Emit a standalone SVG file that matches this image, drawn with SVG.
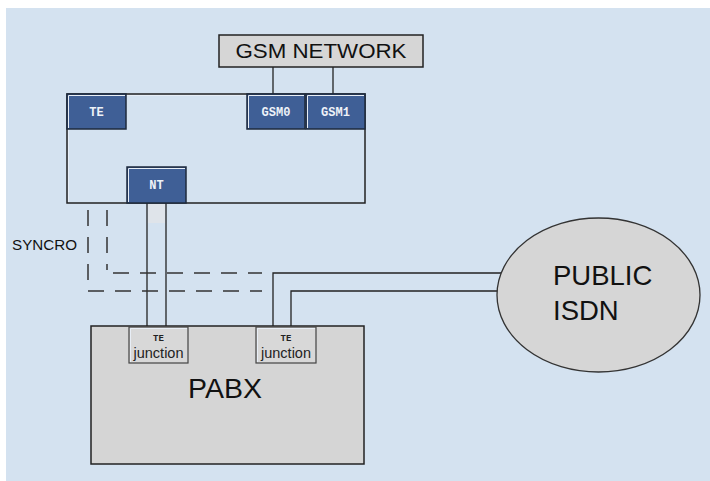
<svg xmlns="http://www.w3.org/2000/svg" width="710" height="481" viewBox="0 0 710 481">
<style>
.bg{fill:#d4e2f0}
.blue{fill:#3f5f96;stroke:#1e2a3c;stroke-width:1.5}
.hl{stroke:#e8eef6;stroke-width:1;fill:none}
.lbl{font-family:"Liberation Mono","DejaVu Sans Mono",monospace;font-weight:bold;font-size:12px;fill:#eef2f8;text-anchor:middle}
.big{font-family:"Liberation Sans",Arial,sans-serif;fill:#111}
.wire{stroke:#222;stroke-width:1.3;fill:none}
.dash{stroke:#333;stroke-width:1.5;fill:none;stroke-dasharray:16 11}
.gray{fill:#d5d5d5;stroke:#222;stroke-width:1.5}
.jbox{fill:#d8d8d8;stroke:#444;stroke-width:1.2}
.jte{font-family:"Liberation Mono",monospace;font-weight:bold;font-size:9px;fill:#222;text-anchor:middle}
.jtxt{font-family:"Liberation Sans",Arial,sans-serif;font-size:14px;fill:#222;text-anchor:middle}
</style>
<rect x="0" y="0" width="710" height="481" fill="#ffffff"/>
<rect class="bg" x="6" y="8" width="704" height="473"/>

<g id="connectors">
  <line class="wire" x1="273" y1="67" x2="273" y2="94"/>
  <line class="wire" x1="333" y1="67" x2="333" y2="94"/>
  <rect x="148" y="203" width="17" height="20" fill="#dfe4ea"/>
  <line class="wire" x1="147" y1="203" x2="147" y2="327"/>
  <line class="wire" x1="166" y1="203" x2="166" y2="327"/>
  <path class="dash" d="M88 129 V291 H262"/>
  <path class="dash" d="M107 129 V270"/>
  <path class="dash" d="M113 273 H262"/>
  <path class="wire" d="M273 327 V273 H502"/>
  <path class="wire" d="M291 327 V291 H498"/>
</g>

<g id="gsm-network">
  <rect x="219" y="35" width="204" height="32" fill="#d6d6d6" stroke="#222" stroke-width="1.5"/>
  <text class="big" x="321" y="58" font-size="21" text-anchor="middle" textLength="171" lengthAdjust="spacingAndGlyphs">GSM NETWORK</text>
</g>

<g id="main-box">
  <rect x="67" y="94" width="298" height="109" fill="#d4e2f0" stroke="#222" stroke-width="1.5"/>
  <path class="hl" d="M68.5 202 V95.5 H364"/>
</g>

<g id="te">
  <rect class="blue" x="67" y="94" width="59" height="35"/>
  <path class="hl" d="M68.5 128 V95.5 H125"/>
  <text class="lbl" x="96.5" y="116">TE</text>
</g>

<g id="gsm0">
  <rect class="blue" x="247" y="94" width="58" height="35"/>
  <path class="hl" d="M248.5 128 V95.5 H304"/>
  <text class="lbl" x="276" y="116">GSM0</text>
</g>

<g id="gsm1">
  <rect class="blue" x="306" y="94" width="59" height="35"/>
  <path class="hl" d="M307.5 128 V95.5 H364"/>
  <text class="lbl" x="335.5" y="116">GSM1</text>
</g>

<g id="nt">
  <rect class="blue" x="127" y="167" width="59" height="36"/>
  <path class="hl" d="M128.5 202 V168.5 H185"/>
  <text class="lbl" x="156.5" y="189">NT</text>
</g>

<g id="syncro">
  <text class="big" x="12" y="250" font-size="15" fill="#222" textLength="65" lengthAdjust="spacingAndGlyphs">SYNCRO</text>
</g>

<g id="pabx">
  <rect class="gray" x="91" y="326" width="273" height="138"/>
  <text class="big" x="225" y="398" font-size="28.5" text-anchor="middle">PABX</text>
</g>

<g id="junction-left">
  <rect class="jbox" x="129" y="327" width="59" height="36"/>
  <path class="hl" d="M130.5 362 V328.5 H187"/>
  <text class="jte" x="158.5" y="341">TE</text>
  <text class="jtxt" x="158.5" y="358" textLength="50" lengthAdjust="spacingAndGlyphs">junction</text>
</g>

<g id="junction-right">
  <rect class="jbox" x="256" y="327" width="60" height="36"/>
  <path class="hl" d="M257.5 362 V328.5 H315"/>
  <text class="jte" x="286" y="341">TE</text>
  <text class="jtxt" x="286" y="358" textLength="50" lengthAdjust="spacingAndGlyphs">junction</text>
</g>

<g id="public-isdn">
  <ellipse cx="598.5" cy="295" rx="101.5" ry="77" fill="#d6d6d6" stroke="#333" stroke-width="1.3"/>
  <text class="big" x="553" y="285" font-size="27.5">PUBLIC</text>
  <text class="big" x="553" y="320" font-size="27.5">ISDN</text>
</g>
</svg>
